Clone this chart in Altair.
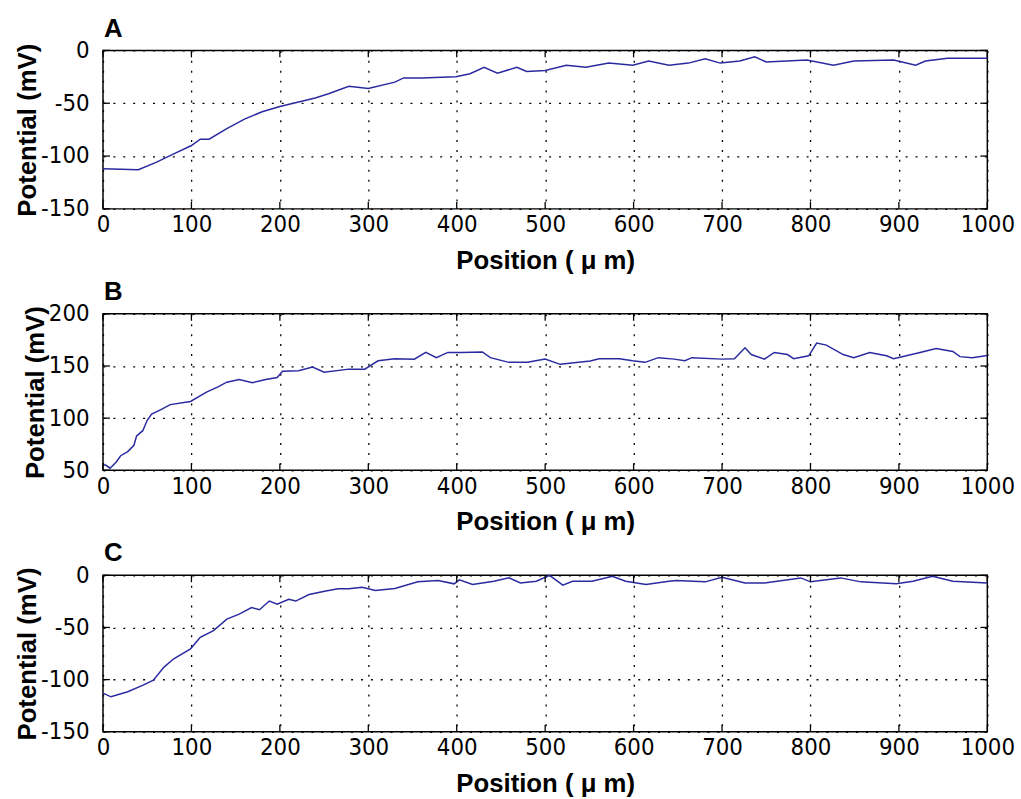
import altair as alt
import pandas as pd

# ---- data ----
pos_a = [0, 40, 60, 80, 100, 110, 120, 140, 160, 180, 200, 220, 240, 255, 278, 300, 330, 340, 360,
         399, 415, 431, 446, 468, 479, 500, 524, 546, 572, 599, 617, 640, 662, 681, 698, 720, 737,
         750, 796, 826, 849, 894, 919, 930, 955, 1000]
val_a = [-112, -113, -106, -98, -90, -84, -84, -74, -65, -58, -53, -49, -45, -41, -34, -36, -30, -26, -26,
         -25, -22, -16, -21.5, -16, -20, -19, -14, -16, -12, -14, -10, -14, -12, -8, -12, -10, -6,
         -11, -9, -14, -10, -9, -14, -10, -7.5, -7.5]

pos_b = [0, 3, 8, 15, 20, 28, 35, 38, 45, 50, 55, 65, 76, 99, 117, 130, 140, 154, 169, 184, 197, 203,
         221, 237, 250, 278, 296, 311, 330, 352, 365, 377, 390, 405, 429, 438, 459, 480, 500, 517, 551,
         561, 584, 599, 613, 628, 646, 658, 666, 700, 714, 726, 733, 748, 759, 774, 781, 798, 807, 818,
         837, 849, 867, 886, 894, 924, 942, 961, 969, 983, 1000]
val_b = [55, 55, 52, 58, 64, 68, 74, 83, 88, 98, 104, 108, 113, 116, 125, 130, 134.5, 137, 134, 137, 139, 145,
         145.5, 149, 144, 147, 147, 155, 157, 156.5, 163, 158, 163, 163, 163.5, 158, 153.5, 153.5, 156.6, 151.6, 154.8,
         157, 157, 155, 153.5, 158, 156.6, 155, 158, 156.6, 157, 167.4, 161, 156.6, 163, 161, 157, 159.8, 172, 170,
         161, 158, 163, 159.8, 157, 163, 166.8, 164, 159, 158, 160]

pos_c = [0, 9, 28, 46, 57, 69, 80, 99, 110, 125, 140, 154, 168, 177, 188, 197, 210, 218, 233, 252, 266,
         278, 293, 308, 330, 356, 379, 397, 403, 418, 442, 459, 472, 490, 505, 520, 531, 553, 576, 591,
         614, 640, 648, 681, 700, 726, 748, 789, 800, 834, 857, 897, 916, 938, 961, 1000]
val_c = [-113, -116.5, -111.7, -105, -100.6, -88, -80, -70.5, -59.5, -53, -42, -37.3, -31, -33, -24.7, -27.8,
         -23, -24.7, -18.4, -15, -13, -13, -11.4, -14.5, -12.7, -6.3, -5, -8.2, -4.4, -8.9, -5.7, -2.5, -7.3,
         -5.7, 0, -9.5, -5.7, -5.7, -1, -5.7, -8.9, -5.7, -5, -6.3, -1.9, -7.3, -7.3, -2.5, -6.3, -2.5, -6.3,
         -8.2, -5.7, -1, -5.7, -7.3]

x_ticks = [0, 100, 200, 300, 400, 500, 600, 700, 800, 900, 1000]
y_ticks_ac = [-150, -100, -50, 0]
y_ticks_b = [50, 100, 150, 200]

LINE = "#2a2aa0"
NUM_FONT = "Liberation Sans Narrow, Arial Narrow, DejaVu Sans Condensed, Liberation Sans, sans-serif"
BOLD_FONT = "Liberation Sans, Arial, Helvetica, sans-serif"
X_TITLE = "Position ( \u03bc m)"
Y_TITLE = "Potential (mV)"
W = 893
TICK = 7


def panel(letter, pos, val, ydom, yticks, h):
    df = pd.DataFrame({"pos": pos, "val": val})
    xs = alt.Scale(domain=[0, 1000], nice=False, zero=False)
    ys = alt.Scale(domain=ydom, nice=False, zero=False)
    grid = dict(grid=True, gridDash=[2, 8], gridColor="black", gridWidth=1.3, gridOpacity=1,
                ticks=False, tickSize=0, domain=False, labelFont=NUM_FONT, labelFontSize=24,
                labelColor="black", labelFlush=False, labelExpr="'' + datum.value",
                titleFont=BOLD_FONT, titleFontSize=26, titleFontWeight="bold", titleColor="black")
    main = alt.Chart(df).mark_line(color=LINE, strokeWidth=1.5).encode(
        x=alt.X("pos:Q", scale=xs, title=X_TITLE, axis=alt.Axis(
            orient="bottom", values=x_ticks, labelPadding=4, titlePadding=11, **grid)),
        y=alt.Y("val:Q", scale=ys, title=Y_TITLE, axis=alt.Axis(
            orient="left", values=yticks, labelPadding=14, titlePadding=0, **grid)),
    )
    xt = pd.DataFrame({"t": x_ticks})
    yt = pd.DataFrame({"t": yticks})
    tick_style = dict(color="black", strokeWidth=1.3)
    xtick_bot = alt.Chart(xt).mark_rule(**tick_style).encode(
        x=alt.X("t:Q", scale=xs), y=alt.value(h - TICK), y2=alt.value(h))
    xtick_top = alt.Chart(xt).mark_rule(**tick_style).encode(
        x=alt.X("t:Q", scale=xs), y=alt.value(0), y2=alt.value(TICK))
    ytick_left = alt.Chart(yt).mark_rule(**tick_style).encode(
        y=alt.Y("t:Q", scale=ys), x=alt.value(0), x2=alt.value(TICK))
    ytick_right = alt.Chart(yt).mark_rule(**tick_style).encode(
        y=alt.Y("t:Q", scale=ys), x=alt.value(W - TICK), x2=alt.value(W))
    return alt.layer(main, xtick_bot, xtick_top, ytick_left, ytick_right).properties(
        width=W, height=h,
        title=alt.TitleParams(letter, anchor="start", frame="group", font=BOLD_FONT, fontSize=26,
                              fontWeight="bold", color="black", offset=-3, dx=1),
    )


chart = alt.vconcat(
    panel("A", pos_a, val_a, [-150, 0], y_ticks_ac, 160),
    panel("B", pos_b, val_b, [50, 200], y_ticks_b, 158),
    panel("C", pos_c, val_c, [-150, 0], y_ticks_ac, 158),
    spacing=4,
).properties(background="white", padding={"left": 14, "top": 11, "right": 5, "bottom": 0}
).configure_view(stroke="black", strokeWidth=1.5)

chart.save("out.html", embed_options={"renderer": "svg", "actions": False})
